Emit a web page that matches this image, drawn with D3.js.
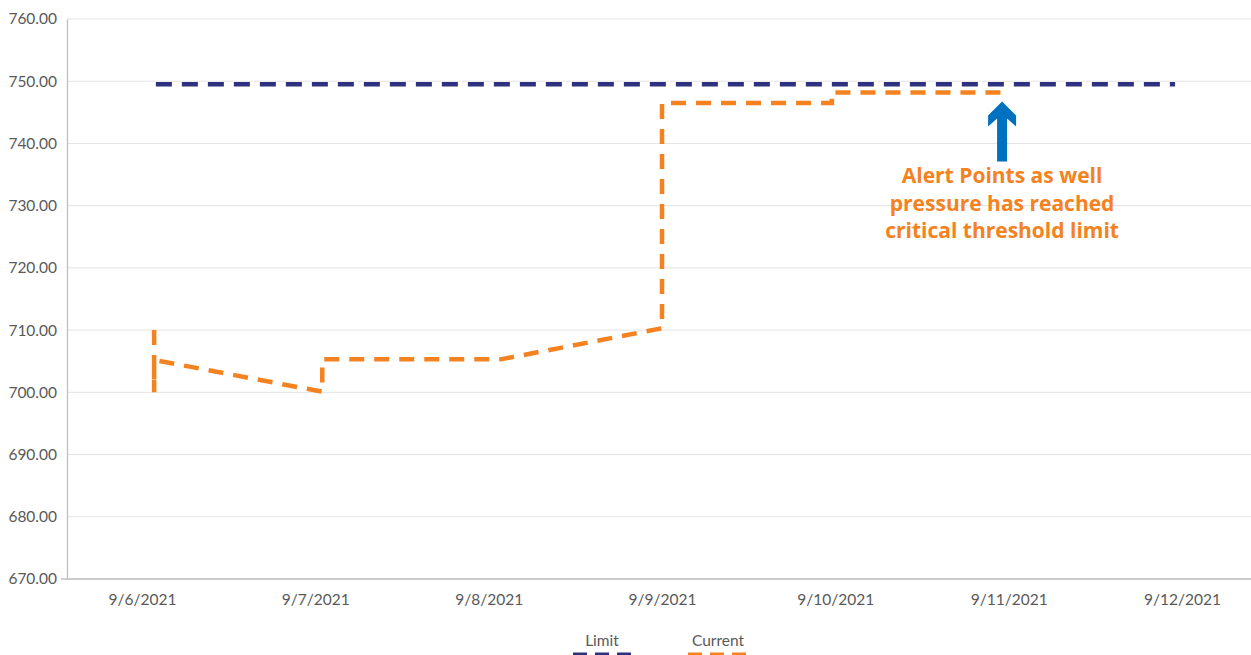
<!DOCTYPE html>
<html>
<head>
<meta charset="utf-8">
<script src="https://cdn.jsdelivr.net/npm/d3@7"></script>
<style>
  html, body { margin: 0; padding: 0; background: #ffffff; }
  svg { display: block; }
</style>
</head>
<body>
<svg id="chart" width="1251" height="655"></svg>
<script>
// ---- data (x in days after 9/6/2021 00:00) ----
const categories = ["9/6/2021", "9/7/2021", "9/8/2021", "9/9/2021", "9/10/2021", "9/11/2021", "9/12/2021"];
const categoryDays = [0, 1, 2, 3, 4, 5, 6];
const yTicks = [670, 680, 690, 700, 710, 720, 730, 740, 750, 760];
const seriesNames = ["Limit", "Current"];
const limitX = [0.08, 5.96];
const limitY = [749.5, 749.5];
const currentX = [0.07, 0.07, 0.07, 1.04, 1.04, 2.07, 3.0, 3.0, 3.98, 3.98, 4.96, 4.96];
const currentY = [710.0, 700.0, 705.2, 700.1, 705.3, 705.3, 710.3, 746.5, 746.5, 748.2, 748.2, 749.5];
const annotationLines = ["Alert Points as well", "pressure has reached", "critical threshold limit"];
const annotationPoint = { x: 4.962, y: 749.0 };

// ---- layout ----
const svg = d3.select("#chart");
const plot = { left: 67, right: 1251, top: 19, bottom: 579 };
const colors = { Limit: "#2e3180", Current: "#f58220" };

const x = d3.scaleLinear().domain([-0.4327, 6.398]).range([plot.left, plot.right]);
const y = d3.scaleLinear().domain([670, 760]).range([plot.bottom, plot.top]);

// gridlines
svg.append("g")
  .selectAll("line")
  .data(yTicks)
  .join("line")
  .attr("x1", plot.left).attr("x2", plot.right)
  .attr("y1", d => y(d)).attr("y2", d => y(d))
  .attr("stroke", "#e3e3e3").attr("stroke-width", 1);

// y axis
const yAxis = svg.append("g")
  .attr("transform", `translate(${plot.left},0)`)
  .call(d3.axisLeft(y).tickValues(yTicks).tickFormat(d3.format(".2f")).tickSize(0).tickPadding(10));
yAxis.select(".domain").attr("stroke", "#bfbfbf").attr("stroke-width", 1.3);
yAxis.selectAll("text")
  .attr("fill", "#595959").attr("font-family", "Lato, sans-serif").attr("font-size", 15.5);

// x axis
const xAxis = svg.append("g")
  .attr("transform", `translate(0,${plot.bottom})`)
  .call(d3.axisBottom(x).tickValues(categoryDays).tickFormat((d, i) => categories[i]).tickSize(0).tickPadding(15));
xAxis.select(".domain").attr("d", `M${plot.left - 6},0H${plot.right}`).attr("stroke", "#bfbfbf").attr("stroke-width", 1.3);
xAxis.selectAll("text")
  .attr("fill", "#595959").attr("font-family", "Lato, sans-serif").attr("font-size", 15.5);

// lines
const line = d3.line().x(d => x(d[0])).y(d => y(d[1]));
const limitData = limitX.map((v, i) => [v, limitY[i]]);
const currentData = currentX.map((v, i) => [v, currentY[i]]);

svg.append("path")
  .datum(currentData)
  .attr("d", line)
  .attr("fill", "none")
  .attr("stroke", colors.Current)
  .attr("stroke-width", 4.5)
  .attr("stroke-dasharray", "15,10");

svg.append("path")
  .datum(limitData)
  .attr("d", line)
  .attr("fill", "none")
  .attr("stroke", colors.Limit)
  .attr("stroke-width", 4.5)
  .attr("stroke-dasharray", "16,10");

// arrow annotation
const ax = x(annotationPoint.x);
const tipY = y(annotationPoint.y) + 14;
const arrowPath = d3.path();
arrowPath.moveTo(ax, tipY);
arrowPath.lineTo(ax + 14, tipY + 14);
arrowPath.lineTo(ax + 14, tipY + 25);
arrowPath.lineTo(ax + 5, tipY + 17);
arrowPath.lineTo(ax + 5, tipY + 60);
arrowPath.lineTo(ax - 5, tipY + 60);
arrowPath.lineTo(ax - 5, tipY + 17);
arrowPath.lineTo(ax - 14, tipY + 25);
arrowPath.lineTo(ax - 14, tipY + 14);
arrowPath.closePath();
svg.append("path").attr("d", arrowPath.toString()).attr("fill", "#0070c0");

svg.append("g")
  .selectAll("text")
  .data(annotationLines)
  .join("text")
  .attr("x", ax)
  .attr("y", (d, i) => tipY + 82 + i * 27.5)
  .attr("text-anchor", "middle")
  .attr("fill", "#f58220")
  .attr("font-family", "'Open Sans', sans-serif")
  .attr("font-weight", "bold")
  .attr("font-size", 21)
  .text(d => d);

// legend
const legend = svg.append("g");
const legendItems = [
  { name: seriesNames[0], cx: 602, x0: 573, x1: 632 },
  { name: seriesNames[1], cx: 718, x0: 688, x1: 748 }
];
legendItems.forEach(it => {
  legend.append("text")
    .attr("x", it.cx).attr("y", 646)
    .attr("text-anchor", "middle")
    .attr("fill", "#595959")
    .attr("font-family", "Lato, sans-serif")
    .attr("font-size", 15.5)
    .text(it.name);
  legend.append("line")
    .attr("x1", it.x0).attr("x2", it.x1)
    .attr("y1", 655).attr("y2", 655)
    .attr("stroke", colors[it.name])
    .attr("stroke-width", 5)
    .attr("stroke-dasharray", "14,8");
});
</script>
</body>
</html>
